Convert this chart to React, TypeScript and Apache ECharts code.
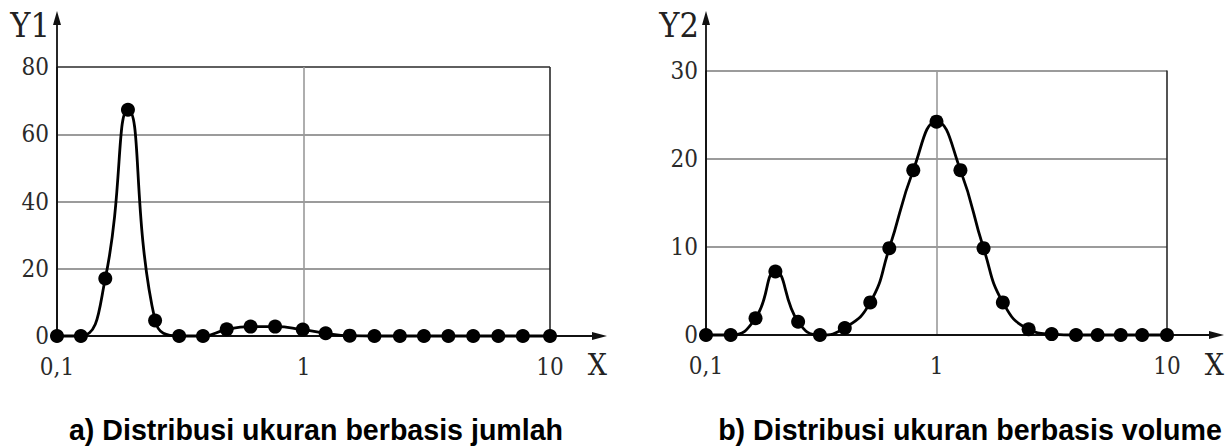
import React, { useEffect, useRef } from "react";
import * as echarts from "echarts";

// ---- data ----
const leftX = [0.1, 0.125, 0.157, 0.194, 0.25, 0.313, 0.391, 0.488, 0.61, 0.767, 0.993, 1.23, 1.54, 1.94, 2.46, 3.08, 3.87, 4.88, 6.17, 7.76, 10];
const leftY = [0, 0, 17.1, 67.3, 4.6, 0, 0, 2.0, 2.8, 2.8, 1.9, 0.8, 0.1, 0, 0, 0, 0, 0, 0, 0, 0];
const rightX = [0.1, 0.128, 0.164, 0.2, 0.251, 0.312, 0.4, 0.516, 0.624, 0.793, 1.0, 1.27, 1.6, 1.94, 2.51, 3.16, 4.03, 5.0, 6.3, 7.8, 10];
const rightY = [0, 0, 1.9, 7.2, 1.5, 0, 0.8, 3.7, 9.85, 18.7, 24.2, 18.7, 9.85, 3.7, 0.65, 0.1, 0, 0, 0, 0, 0];
const yMaxes = [80, 30];
const yIntervals = [20, 10];
const yNames = ["Y1", "Y2"];
const xName = "X";
const captions = ["a) Distribusi ukuran berbasis jumlah", "b) Distribusi ukuran berbasis volume"];
const xMin = 0.1;
const xMax = 10;

const serif = "'DejaVu Serif Condensed', 'DejaVu Serif', serif";

function fmtX(v: number) {
  if (Math.abs(v - 0.1) < 1e-9) return "0,1";
  return String(Math.round(v * 1000) / 1000).replace(".", ",");
}

export default function App() {
  const ref = useRef<HTMLDivElement>(null);
  useEffect(() => {
    document.body.style.margin = "0";
    const chart = echarts.init(ref.current!, null, { renderer: "svg" });
    const grids = [
      { left: 57, top: 67, width: 493, height: 269 },
      { left: 706, top: 70.5, width: 461, height: 264.5 },
    ];
    const xAxes = grids.map((_, i) => ({
      type: "log",
      logBase: 10,
      gridIndex: i,
      min: xMin,
      max: xMax,
      axisLine: { show: false },
      axisTick: { show: false },
      axisLabel: {
        formatter: fmtX,
        fontFamily: serif,
        fontSize: 24,
        color: "#2a2a2a",
        margin: 19,
      },
      splitLine: {
        show: true,
        lineStyle: { color: ["#000", "#9a9a9a", "#2a2a2a"], width: 1.6 },
      },
    }));
    const yAxes = grids.map((_, i) => ({
      type: "value",
      gridIndex: i,
      min: 0,
      max: yMaxes[i],
      interval: yIntervals[i],
      axisLine: { show: false },
      axisTick: { show: false },
      axisLabel: {
        fontFamily: serif,
        fontSize: 24,
        color: "#2a2a2a",
        margin: 8,
      },
      splitLine: {
        show: true,
        lineStyle: { color: ["#000", "#7a7a7a", "#7a7a7a", "#7a7a7a", "#2a2a2a"], width: 1.6 },
      },
    }));
    const mk = (xs: number[], ys: number[], i: number) => ({
      type: "line",
      xAxisIndex: i,
      yAxisIndex: i,
      data: xs.map((x, k) => [x, ys[k]]),
      smooth: 0.5,
      symbol: "circle",
      symbolSize: 14,
      clip: false,
      lineStyle: { color: "#000", width: 2.8 },
      itemStyle: { color: "#000" },
      z: 5,
    });
    chart.setOption({
      animation: false,
      backgroundColor: "#fff",
      grid: grids,
      xAxis: xAxes,
      yAxis: yAxes,
      series: [mk(leftX, leftY, 0), mk(rightX, rightY, 1)],
    });

    const graphic: any[] = [];
    grids.forEach((_, i) => {
      const p0 = chart.convertToPixel({ gridIndex: i } as any, [xMin, 0]) as number[];
      const p1 = chart.convertToPixel({ gridIndex: i } as any, [xMax, yMaxes[i]]) as number[];
      const ax = p0[0];
      const ay = p0[1];
      const arrowX = p1[0] + 57;
      const arrowTop = 11;
      graphic.push(
        { type: "line", z: 3, shape: { x1: ax, y1: ay, x2: ax, y2: arrowTop + 10 }, style: { stroke: "#111", lineWidth: 1.8 } },
        { type: "polygon", z: 3, shape: { points: [[ax, arrowTop], [ax - 4, arrowTop + 14], [ax + 4, arrowTop + 14]] }, style: { fill: "#111" } },
        { type: "line", z: 3, shape: { x1: ax, y1: ay, x2: arrowX - 10, y2: ay }, style: { stroke: "#111", lineWidth: 1.8 } },
        { type: "polygon", z: 3, shape: { points: [[arrowX, ay], [arrowX - 15, ay - 4], [arrowX - 15, ay + 4]] }, style: { fill: "#111" } },
        {
          type: "text", z: 3, x: ax - 7, y: 25,
          style: { text: yNames[i], font: `34px ${serif}`, fill: "#222", textAlign: "right", textVerticalAlign: "middle" },
        },
        {
          type: "text", z: 3, x: arrowX, y: 364,
          style: { text: xName, font: `30px ${serif}`, fill: "#222", textAlign: "right", textVerticalAlign: "middle" },
        },
        {
          type: "text", z: 3, x: i === 0 ? 316 : 970, y: 430,
          style: { text: captions[i], font: `bold 28.6px 'Liberation Sans', Arial, sans-serif`, fill: "#000", textAlign: "center", textVerticalAlign: "middle" },
        }
      );
    });
    chart.setOption({ graphic });
    return () => chart.dispose();
  }, []);
  return <div ref={ref} style={{ width: 1229, height: 446 }} />;
}
